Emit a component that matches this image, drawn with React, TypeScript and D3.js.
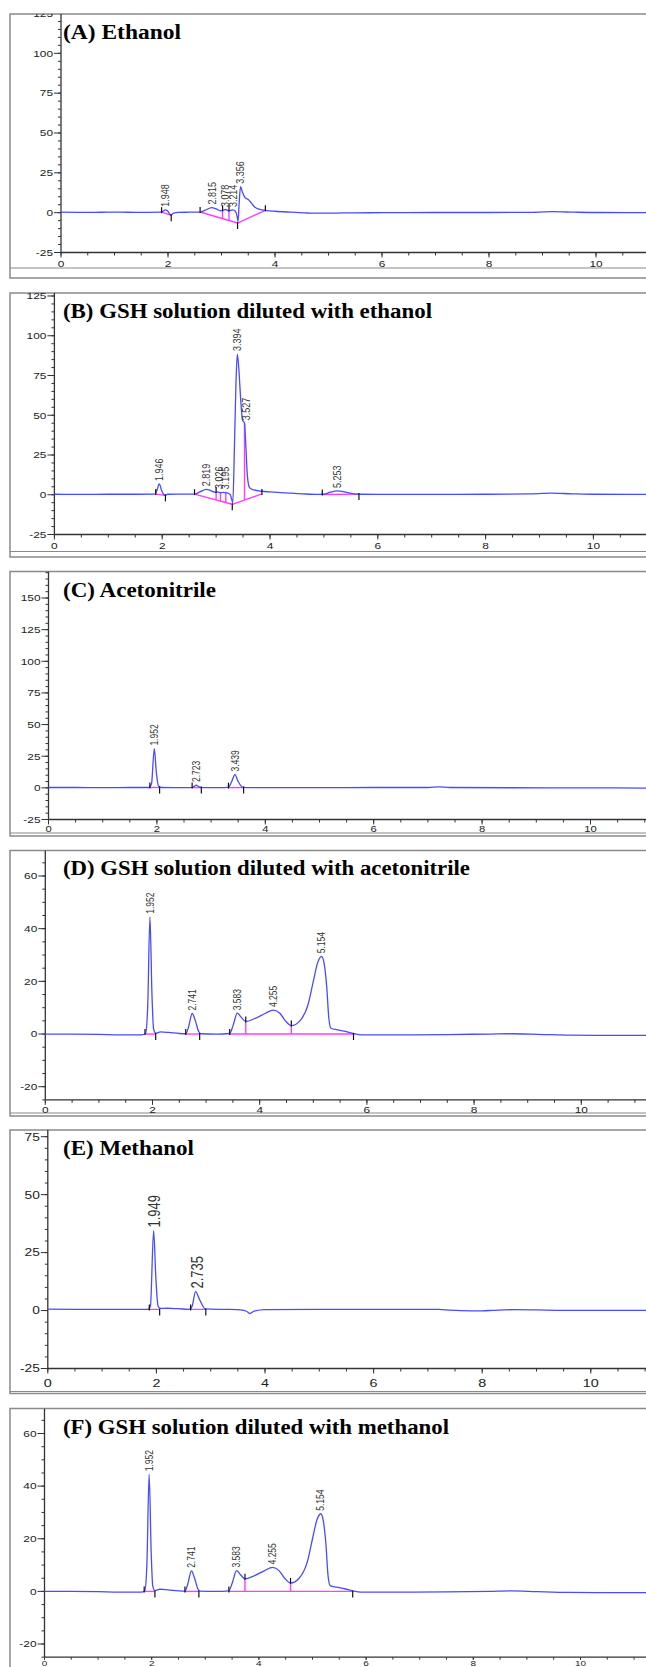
import React from 'react';
import * as d3 from 'd3';

type Pt = [number, number];
type Seg = [number, number, number, number];
type Drop = [number, number, number];
type Mark = [number, number, number];
type Peak = [string, number, number];

// (A) Ethanol  -- [time (min), signal]
const traceA: Pt[] = [
  [0, 0.3], [0.5, 0.2], [1, 0.3], [1.5, 0.2], [1.85, 0.3], [1.9, 0.8], [1.948, 1.8], [1.99, 1.2],
  [2.03, -0.8], [2.06, -1.6], [2.1, -0.3], [2.2, 0.2], [2.4, 0.3], [2.6, 0.4], [2.7, 1.6], [2.815, 3.2],
  [2.9, 2.4], [2.98, 1.2], [3.03, 1.6], [3.078, 2.0], [3.12, 1.2], [3.18, 1.5], [3.214, 1.8], [3.26, 0.8],
  [3.29, -2], [3.31, -5.5], [3.33, 6], [3.356, 16.3], [3.39, 13], [3.44, 9.5], [3.5, 8.2], [3.56, 6],
  [3.62, 3.5], [3.7, 2.2], [3.82, 1.5], [4.0, 0.9], [4.3, 0.3], [4.6, -0.2], [5, -0.3], [5.5, -0.1],
  [6, 0], [7, 0.1], [8, 0.1], [8.7, 0.2], [9.2, 0.6], [9.6, 0.3], [10, 0.1], [11.3, 0],
];
const baseA: Seg[] = [[1.88, 0.3, 2.06, -1.6], [2.6, 0.4, 3.3, -6.5], [3.3, -6.5, 3.82, 1.5]];
const dropA: Drop[] = [[3.02, -3.7, 1.5], [3.14, -4.9, 1.3]];
const marksA: Mark[] = [[1.88, 0.3, 1], [2.06, -1.6, -1], [2.6, 0.4, 1], [3.02, 1.5, 1], [3.14, 1.3, 1], [3.3, -6.5, -1], [3.82, 1.5, 1]];
const peaksA: Peak[] = [['1.948', 1.948, 1.8], ['2.815', 2.815, 3.2], ['3.078', 3.06, 1.6], ['3.214', 3.21, 1.6], ['3.356', 3.356, 16.3]];

// (B) GSH solution diluted with ethanol
const traceB: Pt[] = [
  [0, 0.3], [0.5, 0.2], [1, 0.3], [1.5, 0.3], [1.86, 0.4], [1.9, 2.5], [1.946, 6.8], [1.99, 2.5],
  [2.03, 0.2], [2.06, -0.4], [2.1, 0.3], [2.3, 0.4], [2.6, 0.4], [2.7, 1.8], [2.819, 3.4], [2.9, 2.6],
  [2.98, 1.6], [3.03, 1.8], [3.08, 1.3], [3.14, 1.5], [3.2, 1.2], [3.26, 0.2], [3.29, -3], [3.31, -5],
  [3.34, 30], [3.37, 72], [3.394, 88.5], [3.42, 80], [3.46, 58], [3.49, 47], [3.527, 45], [3.55, 32],
  [3.58, 12], [3.62, 4.5], [3.7, 3], [3.85, 2.2], [4.0, 1.8], [4.3, 1.2], [4.6, 0.6], [4.9, 0.2],
  [5.0, 0.3], [5.12, 1.6], [5.253, 2.4], [5.4, 1.6], [5.55, 0.6], [5.7, 0.3], [6, 0.2], [7, 0.2],
  [8, 0.3], [8.8, 0.5], [9.2, 1.0], [9.6, 0.6], [10, 0.3], [11.3, 0.2],
];
const baseB: Seg[] = [[1.88, 0.4, 2.06, -0.4], [2.6, 0.4, 3.3, -6], [3.3, -6, 3.85, 0.5], [4.97, 0.2, 5.65, 0.4]];
const dropB: Drop[] = [[3.0, -3.2, 1.7], [3.08, -3.9, 1.4], [3.18, -4.8, 1.3], [3.527, -3.3, 45]];
const marksB: Mark[] = [[1.88, 0.4, 1], [2.06, -0.4, -1], [2.6, 0.4, 1], [3.0, 1.7, 1], [3.3, -6, -1], [3.85, 0.5, 1], [4.97, 0.2, 1], [5.65, 0.4, -1]];
const peaksB: Peak[] = [['1.946', 1.946, 6.8], ['2.819', 2.819, 3.4], ['3.026', 3.06, 1.8], ['3.195', 3.17, 1.5], ['3.394', 3.394, 88.5], ['3.527', 3.55, 45], ['5.253', 5.253, 2.4]];

// (C) Acetonitrile
const traceC: Pt[] = [
  [0, 0.3], [0.5, 0.3], [1, 0.2], [1.5, 0.3], [1.85, 0.3], [1.9, 3], [1.952, 31], [1.99, 12],
  [2.03, 1.5], [2.08, 0.3], [2.3, 0.2], [2.62, 0.2], [2.68, 1], [2.723, 2.2], [2.78, 0.8], [2.84, 0.2],
  [3.2, 0.2], [3.32, 0.6], [3.38, 5], [3.439, 10.5], [3.5, 5], [3.58, 0.6], [3.7, 0.2], [5, 0.2],
  [6, 0.3], [7, 0.3], [7.2, 0.8], [7.4, 0.3], [8.5, 0.1], [10, 0], [11.3, -0.3],
];
const baseC: Seg[] = [[1.87, 0.3, 2.05, 0.3], [2.65, 0.2, 2.82, 0.2], [3.32, 0.2, 3.6, 0.2]];
const dropC: Drop[] = [];
const marksC: Mark[] = [[1.87, 0.3, 1], [2.05, 0.3, -1], [2.65, 0.2, 1], [2.82, 0.2, -1], [3.32, 0.2, 1], [3.6, 0.2, -1]];
const peaksC: Peak[] = [['1.952', 1.952, 31], ['2.723', 2.723, 2.2], ['3.439', 3.439, 10.5]];

// (D) GSH solution diluted with acetonitrile
const traceD: Pt[] = [
  [0, 0], [0.5, 0], [1, -0.1], [1.4, -0.3], [1.8, -0.3], [1.87, 0.2], [1.91, 10], [1.952, 44.5],
  [1.99, 15], [2.02, 2], [2.06, 0.3], [2.15, 0.8], [2.3, 0.6], [2.5, 0.2], [2.62, 0.1], [2.67, 2.5],
  [2.741, 7.8], [2.8, 5], [2.86, 1], [2.9, 0.1], [3.2, 0], [3.44, 0.2], [3.5, 3], [3.583, 7.9],
  [3.65, 6.5], [3.74, 4.8], [3.9, 5.8], [4.1, 7.8], [4.255, 9.1], [4.38, 7.8], [4.48, 5], [4.59, 3.2],
  [4.75, 5], [4.9, 11], [5.0, 20], [5.08, 27], [5.154, 29.5], [5.2, 27], [5.25, 18], [5.29, 6],
  [5.33, 2.2], [5.45, 1.6], [5.6, 1.0], [5.75, 0.2], [5.9, -0.3], [6.5, -0.3], [7.5, -0.2], [8.3, 0],
  [8.7, 0.1], [9.2, -0.1], [9.8, -0.4], [10.5, -0.5], [11.3, -0.5],
];
const baseD: Seg[] = [[1.87, 0, 2.05, 0], [2.62, 0, 2.88, 0], [3.44, 0, 5.75, 0]];
const dropD: Drop[] = [[3.74, 0, 4.8], [4.59, 0, 3.2]];
const marksD: Mark[] = [[1.86, 0, 1], [2.06, 0, -1], [2.62, 0, 1], [2.88, 0, -1], [3.44, 0, 1], [3.74, 4.8, 1], [4.59, 3.2, 1], [5.75, 0, -1]];
const peaksD: Peak[] = [['1.952', 1.952, 44.5], ['2.741', 2.741, 7.8], ['3.583', 3.583, 7.9], ['4.255', 4.255, 9.1], ['5.154', 5.154, 29.5]];

// (E) Methanol
const traceE: Pt[] = [
  [0, 0.6], [0.5, 0.5], [1, 0.5], [1.5, 0.5], [1.84, 0.5], [1.89, 2], [1.949, 34.5], [1.99, 14],
  [2.03, 2], [2.07, 0.9], [2.2, 1.0], [2.4, 0.8], [2.6, 0.5], [2.66, 2], [2.72, 8.2], [2.8, 4.5],
  [2.9, 0.7], [3.0, 0.6], [3.3, 0.5], [3.55, 0.3], [3.66, -0.3], [3.72, -1.3], [3.8, -0.2], [4.0, 0.4],
  [5, 0.5], [6, 0.5], [7.2, 0.5], [7.4, 0.2], [7.6, 0], [8.0, -0.1], [8.2, 0.1], [8.6, 0.4],
  [9.0, 0.3], [9.5, 0.1], [10.5, 0.1], [11.3, 0.1],
];
const baseE: Seg[] = [[1.87, 0.5, 2.06, 0.5], [2.63, 0.5, 2.91, 0.5]];
const dropE: Drop[] = [];
const marksE: Mark[] = [[1.87, 0.5, 1], [2.06, 0.5, -1], [2.63, 0.5, 1], [2.91, 0.5, -1]];
const peaksE: Peak[] = [['1.949', 1.965, 34.5], ['2.735', 2.75, 8.2]];

// (F) GSH solution diluted with methanol
const traceF: Pt[] = [
  [0, 0], [0.5, 0], [1, -0.1], [1.4, -0.3], [1.8, -0.3], [1.87, 0.2], [1.91, 10], [1.952, 44.5],
  [1.99, 15], [2.02, 2], [2.06, 0.3], [2.15, 0.8], [2.3, 0.6], [2.5, 0.2], [2.62, 0.1], [2.67, 2.5],
  [2.741, 7.8], [2.8, 5], [2.86, 1], [2.9, 0.1], [3.2, 0], [3.44, 0.2], [3.5, 3], [3.583, 7.9],
  [3.65, 6.5], [3.74, 4.8], [3.9, 5.8], [4.1, 7.8], [4.255, 9.1], [4.38, 7.8], [4.48, 5], [4.59, 3.2],
  [4.75, 5], [4.9, 11], [5.0, 20], [5.08, 27], [5.154, 29.5], [5.2, 27], [5.25, 18], [5.29, 6],
  [5.33, 2.2], [5.45, 1.6], [5.6, 1.0], [5.75, 0.2], [5.9, -0.3], [6.5, -0.3], [7.5, -0.2], [8.3, 0],
  [8.7, 0.2], [9.2, -0.1], [9.8, -0.4], [10.5, -0.5], [11.3, -0.5],
];
const baseF: Seg[] = [[1.87, 0, 2.05, 0], [2.62, 0, 2.88, 0], [3.44, 0, 5.75, 0]];
const dropF: Drop[] = [[3.74, 0, 4.8], [4.59, 0, 3.2]];
const marksF: Mark[] = [[1.86, 0, 1], [2.06, 0, -1], [2.62, 0, 1], [2.88, 0, -1], [3.44, 0, 1], [3.74, 4.8, 1], [4.59, 3.2, 1], [5.75, 0, -1]];
const peaksF: Peak[] = [['1.952', 1.952, 44.5], ['2.741', 2.741, 7.8], ['3.583', 3.583, 7.9], ['4.255', 4.255, 9.1], ['5.154', 5.154, 29.5]];

const titles = [
  '(A) Ethanol',
  '(B) GSH solution diluted with ethanol',
  '(C) Acetonitrile',
  '(D) GSH solution diluted with acetonitrile',
  '(E) Methanol',
  '(F) GSH solution diluted with methanol',
];
const yTicksA = [-25, 0, 25, 50, 75, 100, 125];
const yTicksB = [-25, 0, 25, 50, 75, 100, 125];
const yTicksC = [-25, 0, 25, 50, 75, 100, 125, 150];
const yTicksD = [-20, 0, 20, 40, 60];
const yTicksE = [-25, 0, 25, 50, 75];
const yTicksF = [-20, 0, 20, 40, 60];
const xTicks = [0, 2, 4, 6, 8, 10];

const series = [
  { trace: traceA, base: baseA, drops: dropA, marks: marksA, peaks: peaksA, yTicks: yTicksA },
  { trace: traceB, base: baseB, drops: dropB, marks: marksB, peaks: peaksB, yTicks: yTicksB },
  { trace: traceC, base: baseC, drops: dropC, marks: marksC, peaks: peaksC, yTicks: yTicksC },
  { trace: traceD, base: baseD, drops: dropD, marks: marksD, peaks: peaksD, yTicks: yTicksD },
  { trace: traceE, base: baseE, drops: dropE, marks: marksE, peaks: peaksE, yTicks: yTicksE },
  { trace: traceF, base: baseF, drops: dropF, marks: marksF, peaks: peaksF, yTicks: yTicksF },
];

// pixel layout of each panel
const layout = [
  { top: 14, bottom: 278, inner: 268, left: 61, ppu: 53.5, yPx: [252.5, 13.5], xDy: 11, xFont: 9.5, xTick: 5, pFont: 9, titleY: 39, titleW: 118 },
  { top: 293, bottom: 557, inner: 551.5, left: 54.4, ppu: 53.9, yPx: [534.5, 296], xDy: 11, xFont: 9.5, xTick: 5, pFont: 9, titleY: 318, titleW: 369 },
  { top: 571.5, bottom: 836, inner: 833, left: 48.5, ppu: 54.2, yPx: [819.5, 598], xDy: 9, xFont: 9, xTick: 5, pFont: 8.5, titleY: 597, titleW: 153 },
  { top: 850.5, bottom: 1116, inner: 1113, left: 45.3, ppu: 53.6, yPx: [1086.7, 876], xDy: 9.5, xFont: 9.5, xTick: 5, pFont: 8.5, titleY: 875, titleW: 407 },
  { top: 1130, bottom: 1393.5, inner: 1391.5, left: 47.8, ppu: 54.3, yPx: [1368.5, 1136.7], xDy: 14, xFont: 11.5, xTick: 5, pFont: 13, titleY: 1155, titleW: 131 },
  { top: 1408.5, bottom: 1672, inner: 1672, left: 44.5, ppu: 53.6, yPx: [1644, 1433.5], xDy: 5.8, xFont: 8, xTick: 2.5, pFont: 8.5, titleY: 1434, titleW: 386 },
];

const W = 646;
const H = 1667;
const TRACE = '#4a4aff';
const PINK = '#ff3cff';
const AXIS = '#333';
const FRAME = '#8a8a8a';
const SX = 1.25; // labels are stretched horizontally in the original

function Panel({ i }: { i: number }) {
  const L = layout[i];
  const S = series[i];
  const yt = S.yTicks;
  const x = d3.scaleLinear().domain([0, 1]).range([L.left, L.left + L.ppu]);
  const y = d3.scaleLinear().domain([yt[0], yt[yt.length - 1]]).range(L.yPx);
  const axisY = y(-25);
  const yMinor = d3.range(-25, y.invert(L.top) + 0.01, 5);
  const xMinor = d3.range(0, x.invert(W) + 0.01, 0.5);
  const line = d3.line<Pt>().x(d => x(d[0])).y(d => y(d[1])).curve(d3.curveMonotoneX);
  const clip = `clip${i}`;
  return (
    <g>
      <defs>
        <clipPath id={clip}>
          <rect x={10} y={L.top} width={W} height={L.bottom - L.top} />
        </clipPath>
      </defs>
      <rect x={10} y={L.top} width={W + 20} height={L.bottom - L.top} fill="#fff" stroke={FRAME} strokeWidth={1.5} />
      <line x1={10} x2={W} y1={L.inner} y2={L.inner} stroke={FRAME} strokeWidth={1.2} />
      <g clipPath={`url(#${clip})`}>
        {/* axes */}
        <line x1={L.left} x2={L.left} y1={L.top} y2={axisY} stroke={AXIS} strokeWidth={1.3} />
        <line x1={L.left} x2={W + 10} y1={axisY} y2={axisY} stroke={AXIS} strokeWidth={1.3} />
        {yMinor.map(v => (
          <line key={'ym' + v} x1={L.left - 3} x2={L.left} y1={y(v)} y2={y(v)} stroke={AXIS} strokeWidth={1} />
        ))}
        {yt.map(v => (
          <g key={'yt' + v}>
            <line x1={L.left - 7} x2={L.left} y1={y(v)} y2={y(v)} stroke={AXIS} strokeWidth={1} />
            <text
              transform={`translate(${L.left - 8},${y(v)}) scale(${SX},1)`}
              textAnchor="end"
              dy="0.35em"
              fontSize={i === 4 ? 11 : 9.5}
              fontFamily="Liberation Sans, Arial, sans-serif"
              fill="#222"
            >
              {v}
            </text>
          </g>
        ))}
        {xMinor.map(v => (
          <line key={'xm' + v} x1={x(v)} x2={x(v)} y1={axisY} y2={axisY + Math.min(3, L.xTick)} stroke={AXIS} strokeWidth={1} />
        ))}
        {xTicks.map(v => (
          <g key={'xt' + v}>
            <line x1={x(v)} x2={x(v)} y1={axisY} y2={axisY + L.xTick} stroke={AXIS} strokeWidth={1} />
            <text
              transform={`translate(${x(v)},${axisY + L.xDy}) scale(${SX},1)`}
              textAnchor="middle"
              dy="0.35em"
              fontSize={L.xFont}
              fontFamily="Liberation Sans, Arial, sans-serif"
              fill="#222"
            >
              {v}
            </text>
          </g>
        ))}
        {/* integration baselines */}
        {S.base.map((s, k) => (
          <line key={'b' + k} x1={x(s[0])} y1={y(s[1])} x2={x(s[2])} y2={y(s[3])} stroke={PINK} strokeWidth={1.4} />
        ))}
        {S.drops.map((d, k) => (
          <line key={'d' + k} x1={x(d[0])} x2={x(d[0])} y1={y(d[1])} y2={y(d[2])} stroke={PINK} strokeWidth={1.4} />
        ))}
        {/* signal */}
        <path d={line(S.trace) || ''} fill="none" stroke={TRACE} strokeWidth={1.3} strokeLinejoin="round" />
        {S.marks.map((m, k) => (
          <line
            key={'m' + k}
            x1={x(m[0])}
            x2={x(m[0])}
            y1={m[2] > 0 ? y(m[1]) - 5 : y(m[1]) - 1}
            y2={m[2] > 0 ? y(m[1]) + 1 : y(m[1]) + 6}
            stroke="#111"
            strokeWidth={1.2}
          />
        ))}
        {S.peaks.map((p, k) => (
          <text
            key={'p' + k}
            transform={`translate(${x(p[1])},${y(p[2]) - 3}) scale(${SX},1) rotate(-90)`}
            dy="0.35em"
            fontSize={L.pFont}
            fontFamily="Liberation Sans, Arial, sans-serif"
            fill="#333"
          >
            {p[0]}
          </text>
        ))}
        <text
          x={63}
          y={L.titleY}
          fontFamily="Liberation Serif, Times New Roman, serif"
          fontWeight="bold"
          fontSize={20.5}
          textLength={L.titleW}
          lengthAdjust="spacingAndGlyphs"
          fill="#000"
        >
          {titles[i]}
        </text>
      </g>
    </g>
  );
}

export default function App() {
  return (
    <svg
      width={W}
      height={H}
      viewBox={`0 0 ${W} ${H}`}
      style={{ position: 'absolute', left: 0, top: 0, background: '#fff' }}
    >
      <rect width={W} height={H} fill="#fff" />
      {layout.map((_, i) => (
        <Panel key={i} i={i} />
      ))}
    </svg>
  );
}
